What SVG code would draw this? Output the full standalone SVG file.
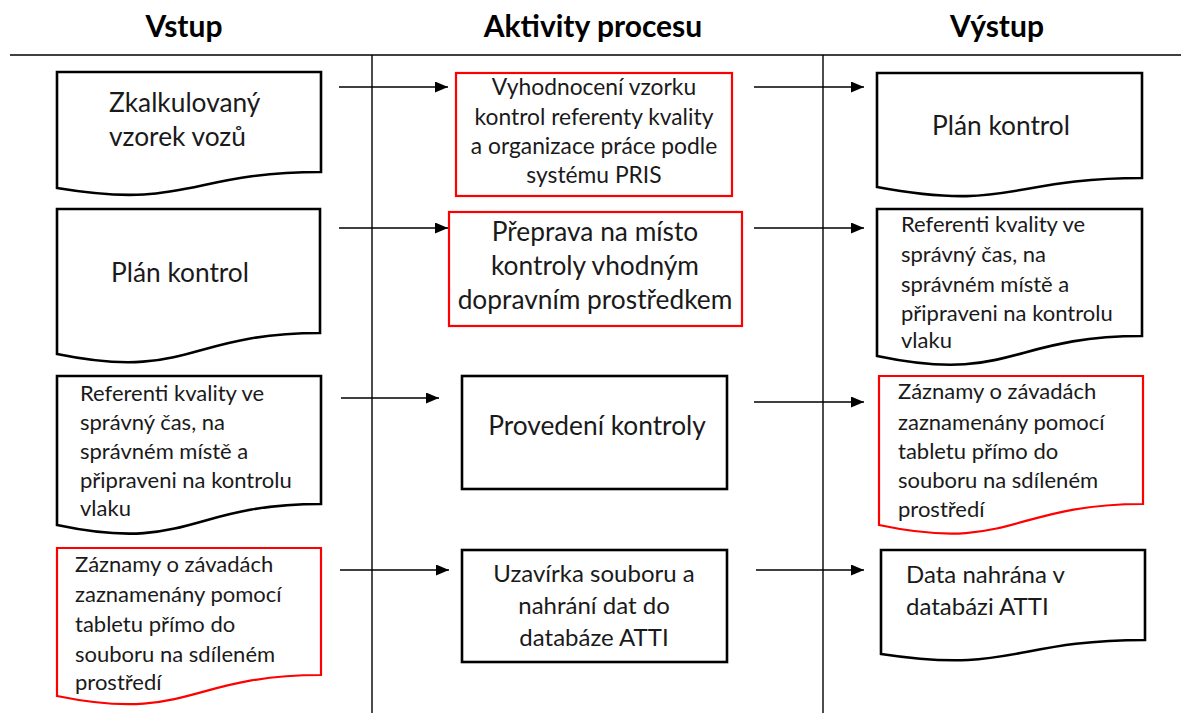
<svg xmlns="http://www.w3.org/2000/svg" width="1181" height="713" viewBox="0 0 1181 713">
  <defs>
    <marker id="arrow" markerWidth="14" markerHeight="11" refX="13" refY="5.5" orient="auto" markerUnits="userSpaceOnUse">
      <path d="M0,0 L13,5.5 L0,11 Z" fill="#000"/>
    </marker>
    <style>
      .doc { fill: #fff; stroke: #000; stroke-width: 2.6; stroke-linejoin: miter; }
      .box { fill: #fff; stroke: #000; stroke-width: 2.6; }
      .red { stroke: #ff0000; stroke-width: 2.2; }
      .grid { stroke: #000; stroke-width: 1.4; fill: none; }
      .conn { stroke: #000; stroke-width: 1.4; fill: none; marker-end: url(#arrow); }
      text { font-family: Lato, "Liberation Sans", sans-serif; fill: #1a1a1a; }
      .head { font-weight: bold; font-size: 30px; text-anchor: middle; fill: #000; }
      .c { text-anchor: middle; }
      .big { font-size: 26.3px; }
      .mid { font-size: 24px; }
      .sm { font-size: 22px; }
      .sa { font-size: 22.8px; }
    </style>
  </defs>

  <!-- column headings and lane separators -->
  <g id="lanes">
    <line class="grid" x1="10" y1="55" x2="1181" y2="55"/>
    <line class="grid" x1="372" y1="55" x2="372" y2="713"/>
    <line class="grid" x1="823" y1="55" x2="823" y2="713"/>
    <text class="head" x="184" y="37">Vstup</text>
    <text class="head" x="593" y="37">Aktivity procesu</text>
    <text class="head" x="997" y="37">Výstup</text>
  </g>

  <!-- input documents -->
  <g id="in-vzorek">
    <path class="doc" d="M57,72 H321 V172 C189,172 189,210 57,188 Z"/>
    <text class="big" x="109" y="112">Zkalkulovaný</text>
    <text class="big" x="109" y="146">vzorek vozů</text>
  </g>
  <g id="in-plan">
    <path class="doc" d="M57,209 H320 V333 C188,333 188,381 57,354 Z"/>
    <text class="big" x="111" y="282">Plán kontrol</text>
  </g>
  <g id="in-referenti">
    <path class="doc" d="M57,376 H321 V504 C189,504 189,553 57,525 Z"/>
    <text class="sm" x="80" y="401">Referenti kvality ve</text>
    <text class="sm" x="80" y="430">správný čas, na</text>
    <text class="sm" x="80" y="459">správném místě a</text>
    <text class="sm" x="80" y="488">připraveni na kontrolu</text>
    <text class="sm" x="80" y="516">vlaku</text>
  </g>
  <g id="in-zaznamy">
    <path class="doc red" d="M57,548 H321 V675 C189,675 189,723 57,696 Z"/>
    <text class="sm" x="75" y="572">Záznamy o závadách</text>
    <text class="sm" x="75" y="602">zaznamenány pomocí</text>
    <text class="sm" x="75" y="632">tabletu přímo do</text>
    <text class="sm" x="75" y="662">souboru na sdíleném</text>
    <text class="sm" x="75" y="690">prostředí</text>
  </g>

  <!-- process activities -->
  <g id="act-vyhodnoceni">
    <rect class="box red" x="456" y="73" width="276" height="123"/>
    <text class="sa c" x="594" y="95">Vyhodnocení vzorku</text>
    <text class="sa c" x="594" y="125">kontrol referenty kvality</text>
    <text class="sa c" x="594" y="154">a organizace práce podle</text>
    <text class="sa c" x="594" y="183">systému PRIS</text>
  </g>
  <g id="act-preprava">
    <rect class="box red" x="449" y="212" width="293" height="114"/>
    <text class="big c" x="595" y="241">Přeprava na místo</text>
    <text class="big c" x="595" y="275">kontroly vhodným</text>
    <text class="big c" x="595" y="309">dopravním prostředkem</text>
  </g>
  <g id="act-provedeni">
    <rect class="box" x="462" y="376" width="265" height="113"/>
    <text class="big c" x="597" y="435">Provedení kontroly</text>
  </g>
  <g id="act-uzavirka">
    <rect class="box" x="462" y="550" width="265" height="112"/>
    <text class="mid c" x="594" y="582">Uzavírka souboru a</text>
    <text class="mid c" x="594" y="614">nahrání dat do</text>
    <text class="mid c" x="594" y="646">databáze ATTI</text>
  </g>

  <!-- output documents -->
  <g id="out-plan">
    <path class="doc" d="M877,73 H1142 V178 C1010,178 1010,212 877,187 Z"/>
    <text class="big" x="932" y="135">Plán kontrol</text>
  </g>
  <g id="out-referenti">
    <path class="doc" d="M877,209 H1142 V336 C1010,336 1010,384 877,356 Z"/>
    <text class="sm" x="901" y="232">Referenti kvality ve</text>
    <text class="sm" x="901" y="262">správný čas, na</text>
    <text class="sm" x="901" y="292">správném místě a</text>
    <text class="sm" x="901" y="321">připraveni na kontrolu</text>
    <text class="sm" x="901" y="348">vlaku</text>
  </g>
  <g id="out-zaznamy">
    <path class="doc red" d="M879,376 H1143 V504 C1011,504 1011,553 879,525 Z"/>
    <text class="sm" x="898" y="399">Záznamy o závadách</text>
    <text class="sm" x="898" y="430">zaznamenány pomocí</text>
    <text class="sm" x="898" y="459">tabletu přímo do</text>
    <text class="sm" x="898" y="488">souboru na sdíleném</text>
    <text class="sm" x="898" y="517">prostředí</text>
  </g>
  <g id="out-data">
    <path class="doc" d="M881,550 H1145 V640 C1013,640 1013,674 881,654 Z"/>
    <text class="mid" x="906" y="583">Data nahrána v</text>
    <text class="mid" x="906" y="615">databázi ATTI</text>
  </g>

  <!-- connectors -->
  <g id="connectors">
    <line class="conn" x1="339" y1="87" x2="448" y2="87"/>
    <line class="conn" x1="339" y1="228" x2="448" y2="228"/>
    <line class="conn" x1="341" y1="398" x2="439" y2="398"/>
    <line class="conn" x1="340" y1="570" x2="449" y2="570"/>
    <line class="conn" x1="754" y1="87" x2="864" y2="87"/>
    <line class="conn" x1="754" y1="228" x2="864" y2="228"/>
    <line class="conn" x1="754" y1="402" x2="864" y2="402"/>
    <line class="conn" x1="756" y1="570" x2="864" y2="570"/>
  </g>
</svg>
